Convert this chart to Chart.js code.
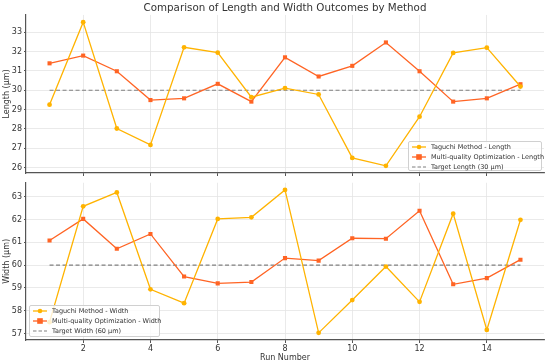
<!DOCTYPE html>
<html>
<head>
<meta charset="utf-8">
<script src="https://cdn.jsdelivr.net/npm/chart.js@4.4.1/dist/chart.umd.min.js"></script>
<style>
  body { margin: 0; background: #fff; font-family: "DejaVu Sans", sans-serif; }
  #wrap { position: relative; width: 550px; height: 363px; }
  .box { position: absolute; left: 0; width: 550px; }
  .legend { position: absolute; background: rgba(255,255,255,0.8); border: 1px solid #d0d0d0;
            border-radius: 2px; font-size: 6.5px; color: #333; padding: 0.5px 3px 0 3px; box-sizing: border-box; }
  .row { height: 9.7px; display: flex; align-items: center; white-space: nowrap; }
  .row svg { margin-right: 5px; flex: none; }
</style>
</head>
<body>
<div id="wrap">
  <div class="box" style="top:0;height:180px"><canvas id="myChart"></canvas></div>
  <div class="box" style="top:176px;height:187px"><canvas id="myChart2"></canvas></div>
  <div class="legend" id="leg1" style="left:408px;top:141px;width:134px;height:30px"></div>
  <div class="legend" id="leg2" style="left:29px;top:305px;width:131px;height:32px"></div>
</div>
<script>
const runs = [1, 2, 3, 4, 5, 6, 7, 8, 9, 10, 11, 12, 13, 14, 15];
const taguchiLength = [29.25, 33.52, 28.02, 27.17, 32.22, 31.94, 29.64, 30.11, 29.78, 26.50, 26.09, 28.63, 31.93, 32.20, 30.19];
const multiLength = [31.39, 31.79, 30.98, 29.49, 29.58, 30.33, 29.41, 31.70, 30.71, 31.26, 32.47, 30.98, 29.41, 29.58, 30.31];
const taguchiWidth = [57.5, 62.58, 63.19, 58.94, 58.33, 62.03, 62.10, 63.30, 57.03, 58.47, 59.94, 58.39, 62.26, 57.16, 61.99];
const multiWidth = [61.08, 62.03, 60.72, 61.37, 59.50, 59.20, 59.26, 60.31, 60.20, 61.18, 61.16, 62.39, 59.16, 59.43, 60.24];
const targetLength = 30;
const targetWidth = 60;
const xTicks = [2, 4, 6, 8, 10, 12, 14];
const lengthTicks = [26, 27, 28, 29, 30, 31, 32, 33];
const widthTicks = [57, 58, 59, 60, 61, 62, 63];
const lengthLabels = ['Taguchi Method - Length', 'Multi-quality Optimization - Length', 'Target Length (30 μm)'];
const widthLabels = ['Taguchi Method - Width', 'Multi-quality Optimization - Width', 'Target Width (60 μm)'];

const C_TAG = '#FFB300';
const C_MQ = '#FF6424';
const C_TGT = '#808080';
const FONT = 'DejaVu Sans';
const TXT = '#333';

function pts(vals) { return runs.map((r, i) => ({ x: r, y: vals[i] })); }
function flat(v) { return runs.map(r => ({ x: r, y: v })); }
function range(arrs) {
  const all = [].concat(...arrs);
  const lo = Math.min(...all), hi = Math.max(...all), m = (hi - lo) * 0.05;
  return [lo - m, hi + m];
}

function makeChart(id, tag, mq, target, labels, yTicks, yTitle, isTop) {
  const [ymin, ymax] = range([tag, mq, [target]]);
  return new Chart(document.getElementById(id), {
    type: 'line',
    data: {
      datasets: [
        { label: labels[0], data: pts(tag), borderColor: C_TAG, backgroundColor: C_TAG, borderWidth: 1.3,
          pointStyle: 'circle', pointRadius: 2.4, pointBorderWidth: 0 },
        { label: labels[1], data: pts(mq), borderColor: C_MQ, backgroundColor: C_MQ, borderWidth: 1.3,
          pointStyle: 'rect', pointRadius: 2.9, pointBorderWidth: 0 },
        { label: labels[2], data: flat(target), borderColor: C_TGT, borderWidth: 1.1, borderDash: [4, 2.5],
          pointRadius: 0 }
      ]
    },
    options: {
      responsive: true,
      maintainAspectRatio: false,
      animation: false,
      layout: { padding: { left: 0, right: 6, top: isTop ? 0 : 5, bottom: 0 } },
      plugins: {
        legend: { display: false },
        tooltip: { enabled: false },
        title: {
          display: isTop,
          fullSize: false,
          text: 'Comparison of Length and Width Outcomes by Method',
          color: TXT,
          font: { family: FONT, size: 10.3, weight: 'normal' },
          padding: { top: 2, bottom: 0.6 }
        }
      },
      scales: {
        x: {
          type: 'linear', min: 0.3, max: 15.7,
          afterBuildTicks: s => { s.ticks = xTicks.map(v => ({ value: v })); },
          afterFit: s => { s.height = isTop ? 7 : 23; },
          grid: { color: '#e4e4e4', tickColor: '#555', tickLength: 3, lineWidth: 0.8, tickWidth: 1 },
          border: { color: '#555', width: 1.2 },
          ticks: { display: !isTop, color: TXT, font: { family: FONT, size: 8 }, padding: 1 },
          title: { display: !isTop, text: 'Run Number', color: TXT, font: { family: FONT, size: 8 }, padding: { top: 0, bottom: 0 } }
        },
        y: {
          type: 'linear', min: ymin, max: ymax,
          afterBuildTicks: s => { s.ticks = yTicks.map(v => ({ value: v })); },
          afterFit: s => { s.width = 26; },
          grid: { color: '#e4e4e4', tickColor: '#555', tickLength: 2, lineWidth: 0.8, tickWidth: 1 },
          border: { color: '#555', width: 1.2 },
          ticks: { color: TXT, font: { family: FONT, size: 8 }, padding: 2 },
          title: { display: true, text: yTitle, color: TXT, font: { family: FONT, size: 8 }, padding: { top: 2, bottom: 0 } }
        }
      }
    }
  });
}

makeChart('myChart', taguchiLength, multiLength, targetLength, lengthLabels, lengthTicks, 'Length (μm)', true);
makeChart('myChart2', taguchiWidth, multiWidth, targetWidth, widthLabels, widthTicks, 'Width (μm)', false);

function handle(kind) {
  if (kind === 0) return '<svg width="14" height="6"><line x1="0" y1="3" x2="14" y2="3" stroke="' + C_TAG + '" stroke-width="1.3"/><circle cx="7" cy="3" r="2.3" fill="' + C_TAG + '"/></svg>';
  if (kind === 1) return '<svg width="14" height="6"><line x1="0" y1="3" x2="14" y2="3" stroke="' + C_MQ + '" stroke-width="1.3"/><rect x="4.2" y="0.2" width="5.6" height="5.6" fill="' + C_MQ + '"/></svg>';
  return '<svg width="14" height="6"><line x1="0" y1="3" x2="14" y2="3" stroke="' + C_TGT + '" stroke-width="1.1" stroke-dasharray="3.5 2"/></svg>';
}
function buildLegend(id, labels) {
  document.getElementById(id).innerHTML = labels.map((l, i) => '<div class="row">' + handle(i) + '<span>' + l + '</span></div>').join('');
}
buildLegend('leg1', lengthLabels);
buildLegend('leg2', widthLabels);
</script>
</body>
</html>
